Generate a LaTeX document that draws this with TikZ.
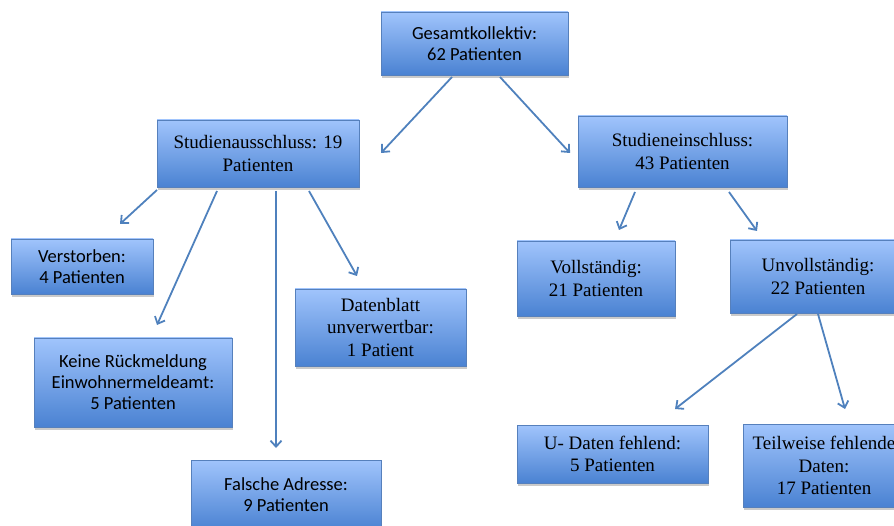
\documentclass[tikz,border=0pt]{standalone}
\usepackage{fontspec}
\setmainfont{Liberation Serif}
\newfontfamily\boxsans{Carlito}
\usetikzlibrary{arrows.meta,shadows}
\definecolor{boxtop}{RGB}{160,196,252}
\definecolor{boxbot}{RGB}{74,130,210}
\definecolor{boxline}{RGB}{86,128,188}
\definecolor{arrcol}{RGB}{79,129,189}
\tikzset{
  flowbox/.style={rectangle, draw=boxline, line width=0.8pt, top color=boxtop, bottom color=boxbot,
    align=center, inner sep=2pt, text=black,
    drop shadow={shadow xshift=1pt, shadow yshift=-3pt, opacity=0.35, fill=black!60}},
  sansbox/.style={flowbox, font=\boxsans\fontsize{18.5}{21}\selectfont},
  serifbox/.style={flowbox, font=\fontsize{19}{22.5}\selectfont},
  flowarrow/.style={draw=arrcol, line width=1.8pt, -{Straight Barb[length=6pt,width=11pt,line width=1.8pt]}}
}
\begin{document}
\begin{tikzpicture}[x=1pt,y=-1pt]
\useasboundingbox (0,0) rectangle (894,526);
\node[sansbox, minimum width=187pt, minimum height=63pt] (gesamt) at (474.5,43.5) {Gesamtkollektiv:\\62 Patienten};
\node[serifbox, minimum width=202pt, minimum height=67pt] (aus) at (258,153.5) {Studienausschluss: 19\\Patienten};
\node[serifbox, minimum width=209pt, minimum height=71pt] (ein) at (682.5,151.5) {Studieneinschluss:\\43 Patienten};
\node[sansbox, minimum width=142pt, minimum height=55pt] (verst) at (82,266.5) {Verstorben:\\4 Patienten};
\node[sansbox, minimum width=198pt, minimum height=89pt] (keine) at (133,382.5) {Keine Rückmeldung\\Einwohnermeldeamt:\\5 Patienten};
\node[sansbox, minimum width=190pt, minimum height=70pt] (falsch) at (286,495) {Falsche Adresse:\\9 Patienten};
\node[serifbox, minimum width=171pt, minimum height=77pt] (daten) at (380.5,327.5) {Datenblatt\\unverwertbar:\\1 Patient};
\node[serifbox, minimum width=158pt, minimum height=75pt] (voll) at (596,278.5) {Vollständig:\\21 Patienten};
\node[serifbox, minimum width=176pt, minimum height=73pt] (unvoll) at (818,276.5) {Unvollständig:\\22 Patienten};
\node[serifbox, minimum width=191pt, minimum height=58pt] (udaten) at (612.5,454) {U- Daten fehlend:\\5 Patienten};
\node[serifbox, minimum width=162pt, minimum height=83pt] (teil) at (824,465.5) {Teilweise fehlende\\Daten:\\17 Patienten};
% arrow end points
\coordinate (g1) at (452,77); \coordinate (g1e) at (381,153);
\coordinate (g2) at (500,77); \coordinate (g2e) at (570,153);
\coordinate (a1) at (157,190); \coordinate (a1e) at (120,224);
\coordinate (a2) at (217,191); \coordinate (a2e) at (157,325);
\coordinate (a3) at (276,191); \coordinate (a3e) at (276,448);
\coordinate (a4) at (309,191); \coordinate (a4e) at (357,276);
\coordinate (e1) at (635,192); \coordinate (e1e) at (619,230);
\coordinate (e2) at (729,192); \coordinate (e2e) at (757,231);
\coordinate (u1) at (797,314); \coordinate (u1e) at (675,409);
\coordinate (u2) at (818,314); \coordinate (u2e) at (845,409);
\draw[flowarrow] (g1) -- (g1e);
\draw[flowarrow] (g2) -- (g2e);
\draw[flowarrow] (a1) -- (a1e);
\draw[flowarrow] (a2) -- (a2e);
\draw[flowarrow] (a3) -- (a3e);
\draw[flowarrow] (a4) -- (a4e);
\draw[flowarrow] (e1) -- (e1e);
\draw[flowarrow] (e2) -- (e2e);
\draw[flowarrow] (u1) -- (u1e);
\draw[flowarrow] (u2) -- (u2e);
\end{tikzpicture}
\end{document}
